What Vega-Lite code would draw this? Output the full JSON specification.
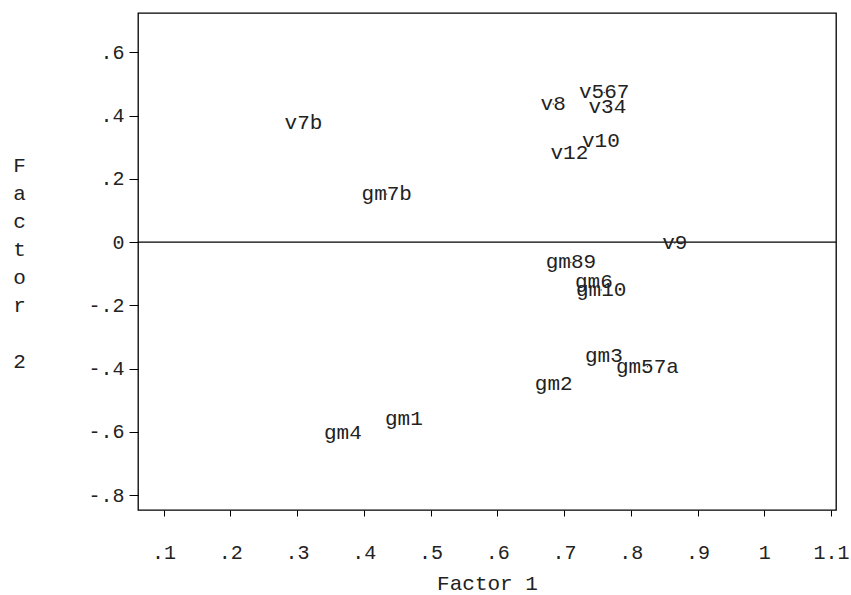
{
  "$schema": "https://vega.github.io/schema/vega-lite/v6.json",
  "width": 698,
  "height": 497,
  "autosize": {"type": "none"},
  "padding": {"left": 138, "top": 13, "right": 15, "bottom": 85},
  "background": "white",
  "config": {
    "view": {"stroke": "black", "strokeWidth": 1.3},
    "font": "Liberation Mono",
    "axis": {
      "domainColor": "black",
      "tickColor": "black",
      "labelColor": "#222222",
      "titleColor": "#222222",
      "labelFont": "Liberation Mono",
      "titleFont": "Liberation Mono",
      "titleFontWeight": "normal",
      "grid": false
    }
  },
  "data": {
    "values": [
      {"var": "v7b", "f1": 0.3096, "f2": 0.3766},
      {"var": "gm7b", "f1": 0.4344, "f2": 0.152},
      {"var": "v8", "f1": 0.6838, "f2": 0.4367},
      {"var": "v567", "f1": 0.7602, "f2": 0.4734},
      {"var": "v34", "f1": 0.765, "f2": 0.4272},
      {"var": "v10", "f1": 0.7552, "f2": 0.3206},
      {"var": "v12", "f1": 0.708, "f2": 0.2816},
      {"var": "v9", "f1": 0.866, "f2": -0.003},
      {"var": "gm89", "f1": 0.7103, "f2": -0.0639},
      {"var": "gm6", "f1": 0.7448, "f2": -0.1247},
      {"var": "gm10", "f1": 0.7557, "f2": -0.151},
      {"var": "gm3", "f1": 0.7597, "f2": -0.3598},
      {"var": "gm57a", "f1": 0.8249, "f2": -0.3937},
      {"var": "gm2", "f1": 0.6846, "f2": -0.4484},
      {"var": "gm1", "f1": 0.46, "f2": -0.5601},
      {"var": "gm4", "f1": 0.3687, "f2": -0.6044}
    ]
  },
  "encoding": {
    "x": {
      "field": "f1",
      "type": "quantitative",
      "scale": {"domain": [0.0617, 1.1075], "nice": false, "zero": false},
      "axis": {
        "title": "Factor 1",
        "values": [0.1, 0.2, 0.3, 0.4, 0.5, 0.6, 0.7, 0.8, 0.9, 1, 1.1],
        "labelExpr": "replace(replace(format(datum.value, '~g'), '0.', '.'), '\u2212', '-')",
        "labelFontSize": 20,
        "labelPadding": 26,
        "tickSize": 6,
        "domain": false,
        "titleFontSize": 21,
        "titlePadding": 10
      }
    },
    "y": {
      "field": "f2",
      "type": "quantitative",
      "scale": {"domain": [-0.847, 0.7247], "nice": false, "zero": false},
      "axis": {
        "title": ["F", "a", "c", "t", "o", "r", "\u2800", "2"],
        "values": [-0.8, -0.6, -0.4, -0.2, 0, 0.2, 0.4, 0.6],
        "labelExpr": "replace(replace(format(datum.value, '~g'), '0.', '.'), '\u2212', '-')",
        "labelFontSize": 20,
        "labelPadding": 5,
        "tickSize": 9,
        "domain": false,
        "titleFontSize": 21,
        "titleAngle": 0,
        "titleAlign": "center",
        "titleBaseline": "middle",
        "titleLineHeight": 28,
        "titleX": -119,
        "titleY": 152
      }
    }
  },
  "layer": [
    {
      "mark": {"type": "rule", "color": "black", "strokeWidth": 1.2},
      "data": {"values": [{"zero": 0}]},
      "encoding": {
        "x": null,
        "y": {"field": "zero", "type": "quantitative"}
      }
    },
    {
      "mark": {"type": "point", "shape": "circle", "filled": true, "size": 2, "color": "#333333", "opacity": 1}
    },
    {
      "mark": {
        "type": "text",
        "align": "center",
        "baseline": "middle",
        "fontSize": 21,
        "font": "Liberation Mono",
        "color": "#222222"
      },
      "encoding": {"text": {"field": "var", "type": "nominal"}}
    }
  ]
}
